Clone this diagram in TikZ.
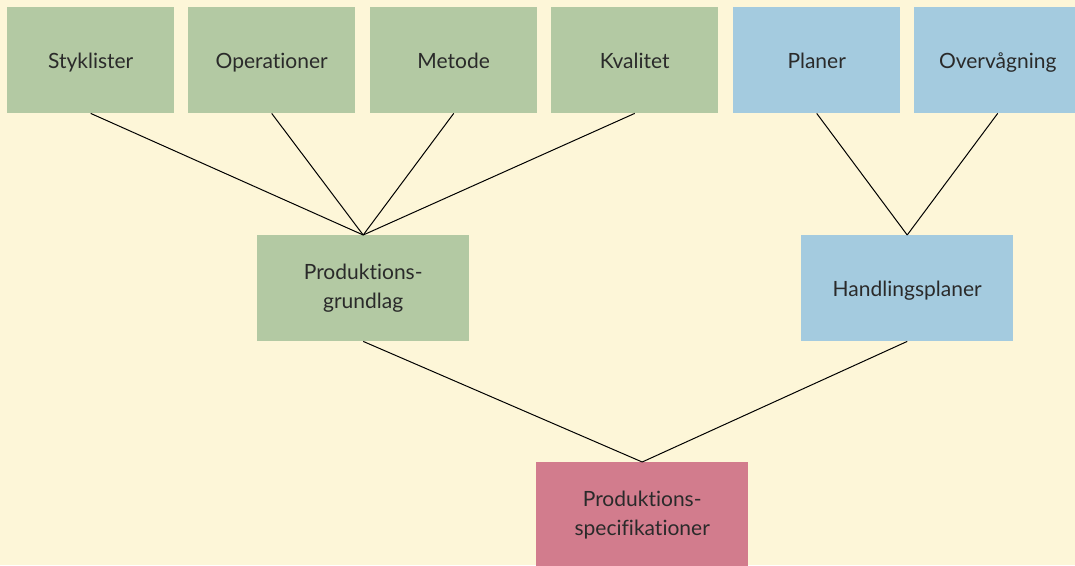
\documentclass[tikz,border=0pt]{standalone}
\usepackage{fontspec}
\setmainfont{Lato}[Ligatures={NoCommon,NoRare,NoDiscretionary}]
\definecolor{bg}{HTML}{FDF6D8}
\definecolor{gr}{HTML}{B3C9A3}
\definecolor{bl}{HTML}{A4CBDF}
\definecolor{pk}{HTML}{D27C8D}
\definecolor{tx}{HTML}{2A2A2A}
\begin{document}
\begin{tikzpicture}[x=1pt,y=-1pt,
  box/.style={anchor=north west,inner sep=0pt,text=tx,align=center,font=\fontsize{21}{29}\selectfont,
    execute at begin node={\rule{0pt}{21pt}},execute at end node={\rule[-4.4pt]{0pt}{0pt}}},
  link/.style={draw=black,line width=1pt}]
\fill[bg] (0,0) rectangle (1075,565);
\useasboundingbox (0,0) rectangle (1075,565);
\node[box,fill=gr,minimum width=167pt,minimum height=106pt] (s) at (7,7) {Styklister};
\node[box,fill=gr,minimum width=167pt,minimum height=106pt] (o) at (188,7) {Operationer};
\node[box,fill=gr,minimum width=167pt,minimum height=106pt] (m) at (370,7) {Metode};
\node[box,fill=gr,minimum width=167pt,minimum height=106pt] (k) at (551,7) {Kvalitet};
\node[box,fill=bl,minimum width=167pt,minimum height=106pt] (p) at (733,7) {Planer};
\node[box,fill=bl,minimum width=167pt,minimum height=106pt] (v) at (914,7) {Overvågning};
\node[box,fill=gr,minimum width=212pt,minimum height=106pt] (g) at (257,235) {Produktions-\\grundlag};
\node[box,fill=bl,minimum width=212pt,minimum height=106pt] (h) at (801,235) {Handlingsplaner};
\node[box,fill=pk,minimum width=212pt,minimum height=106pt] (ps) at (536,462) {Produktions-\\specifikationer};
\foreach \n in {s,o,m,k} \draw[link] (\n.south) -- (g.north);
\foreach \n in {p,v} \draw[link] (\n.south) -- (h.north);
\draw[link] (g.south) -- (ps.north);
\draw[link] (h.south) -- (ps.north);
\end{tikzpicture}
\end{document}
